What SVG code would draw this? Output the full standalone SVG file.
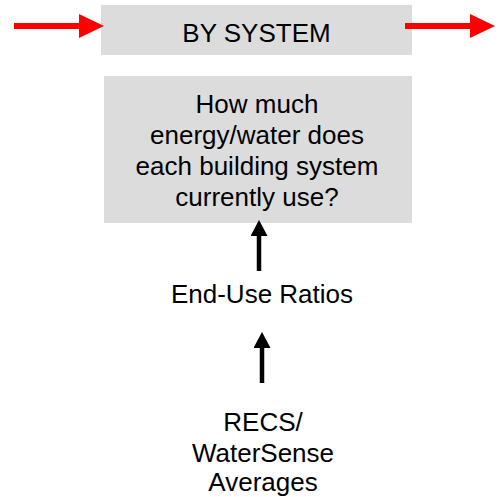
<svg xmlns="http://www.w3.org/2000/svg" width="503" height="497" viewBox="0 0 503 497">
  <style>
    .box { fill: #dcdcdc; }
    .label { font-family: "Liberation Sans", Arial, sans-serif; font-size: 26px; fill: #000; text-anchor: middle; }
    .flow { stroke: #ff0000; stroke-width: 6; fill: none; }
    .up { stroke: #000; stroke-width: 4.5; fill: none; }
  </style>
  <defs>
    <!-- arrowheads drawn in user units so their size does not scale with stroke width -->
    <marker id="redHead" markerUnits="userSpaceOnUse" markerWidth="26" markerHeight="26" refX="0" refY="12" orient="auto">
      <path d="M0,0 L25,12 L0,24 Z" fill="#ff0000"/>
    </marker>
    <marker id="blackHead" markerUnits="userSpaceOnUse" markerWidth="18" markerHeight="18" refX="0" refY="8.5" orient="auto">
      <path d="M0,0 L16,8.5 L0,17 Z" fill="#000"/>
    </marker>
  </defs>

  <g id="by-system">
    <rect class="box" x="101" y="5" width="311" height="50"/>
    <text class="label" x="256.5" y="42">BY SYSTEM</text>
  </g>

  <g id="question">
    <rect class="box" x="104" y="76" width="308" height="147"/>
    <text class="label" x="257" y="113">How much</text>
    <text class="label" x="257" y="144">energy/water does</text>
    <text class="label" x="257" y="175">each building system</text>
    <text class="label" x="257" y="206">currently use?</text>
  </g>

  <g id="end-use-ratios">
    <text class="label" x="262" y="303">End-Use Ratios</text>
  </g>

  <g id="recs-averages">
    <text class="label" x="263" y="431">RECS/</text>
    <text class="label" x="263" y="462">WaterSense</text>
    <text class="label" x="263" y="491">Averages</text>
  </g>

  <g id="connectors">
    <line class="flow" x1="14" y1="26" x2="79" y2="26" marker-end="url(#redHead)"/>
    <line class="flow" x1="405" y1="26" x2="470" y2="26" marker-end="url(#redHead)"/>
    <line class="up" x1="259" y1="271" x2="259" y2="236" marker-end="url(#blackHead)"/>
    <line class="up" x1="262" y1="383" x2="262" y2="348" marker-end="url(#blackHead)"/>
  </g>
</svg>
